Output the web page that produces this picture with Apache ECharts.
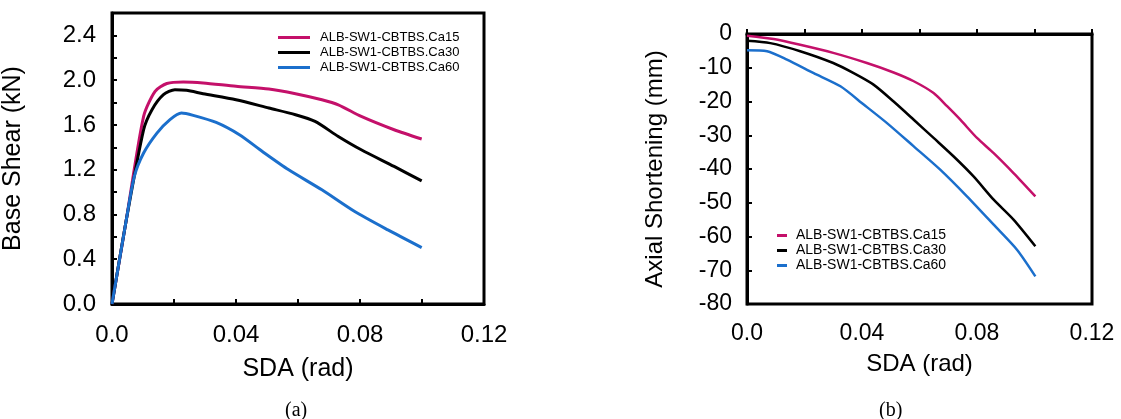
<!DOCTYPE html>
<html>
<head>
<meta charset="utf-8">
<script src="https://cdn.jsdelivr.net/npm/echarts@6/dist/echarts.min.js"></script>
<style>
  html, body { margin: 0; padding: 0; background: #fff; }
  #chart { width: 1121px; height: 419px; }
</style>
</head>
<body>
<div id="chart"></div>
<script>
// series names (legend)
const names = ['ALB-SW1-CBTBS.Ca15', 'ALB-SW1-CBTBS.Ca30', 'ALB-SW1-CBTBS.Ca60'];
const colors = ['#c4106a', '#000000', '#1b6fcc'];

// (a) base shear vs SDA : [SDA (rad), kN]
const shearCa15 = [[0, 0], [0.0046, 0.75], [0.0102, 1.676], [0.0139, 1.90], [0.0177, 1.97], [0.023, 1.984],
  [0.0294, 1.975], [0.040, 1.945], [0.0506, 1.921], [0.0592, 1.879], [0.0677, 1.825], [0.073, 1.78],
  [0.0804, 1.676], [0.091, 1.557], [0.0999, 1.474]];
const shearCa30 = [[0, 0], [0.0046, 0.75], [0.0102, 1.557], [0.0129, 1.736], [0.0166, 1.87], [0.0203, 1.915],
  [0.024, 1.909], [0.0294, 1.879], [0.040, 1.825], [0.0506, 1.751], [0.0592, 1.691], [0.0655, 1.631],
  [0.073, 1.497], [0.0804, 1.378], [0.091, 1.229], [0.0999, 1.10]];
const shearCa60 = [[0, 0], [0.0046, 0.75], [0.0072, 1.14], [0.0102, 1.349], [0.0145, 1.527], [0.0187, 1.647],
  [0.0224, 1.706], [0.0262, 1.685], [0.0336, 1.622], [0.0411, 1.512], [0.0485, 1.363], [0.057, 1.199],
  [0.0677, 1.020], [0.0783, 0.826], [0.089, 0.662], [0.0999, 0.504]];

// (b) axial shortening vs SDA : [SDA (rad), mm]
const axialCa15 = [[0, -0.5], [0.0093, -1.5], [0.0185, -3.2], [0.030, -5.6], [0.0417, -8.6], [0.051, -11.4],
  [0.058, -14.0], [0.0649, -17.5], [0.0696, -21.4], [0.0742, -25.4], [0.080, -30.8], [0.0858, -35.3],
  [0.0927, -41.2], [0.1003, -48.1]];
const axialCa30 = [[0, -2.0], [0.0081, -2.7], [0.0185, -5.1], [0.030, -8.6], [0.0371, -11.6], [0.044, -15.0],
  [0.051, -20.0], [0.058, -25.4], [0.0649, -30.8], [0.0719, -36.3], [0.0788, -42.2], [0.0858, -49.1],
  [0.0927, -55.0], [0.1003, -62.9]];
const axialCa60 = [[0, -4.8], [0.007, -5.1], [0.0139, -7.6], [0.0232, -11.6], [0.0325, -15.5], [0.0406, -20.9],
  [0.0487, -26.4], [0.058, -33.3], [0.0672, -40.2], [0.0765, -48.1], [0.0858, -56.5], [0.0939, -63.9],
  [0.1003, -71.8]];

const font = 'Liberation Sans, Arial, sans-serif';

function xFmt(v) {
  if (Math.round(v / 0.02) % 2 !== 0) return '';
  if (v === 0) return '0.0';
  return String(+v.toFixed(2));
}

function xAxisOf(gi, size, margin, gap) {
  return {
    type: 'value', gridIndex: gi, min: 0, max: 0.12, interval: 0.02,
    name: 'SDA (rad)', nameLocation: 'middle', nameGap: gap,
    nameTextStyle: { fontFamily: font, fontSize: size + 1, color: '#000' },
    axisLine: { lineStyle: { color: '#000', width: 3 } },
    axisTick: { inside: true, length: 5, lineStyle: { color: '#000', width: 2 } },
    axisLabel: { formatter: xFmt, fontFamily: font, fontSize: size, color: '#000', margin: margin, showMaxLabel: true },
    splitLine: { show: false }
  };
}

function line(name, data, color, xi, w) {
  return {
    name: name, type: 'line', xAxisIndex: xi, yAxisIndex: xi, data: data,
    showSymbol: false, smooth: 0.25,
    lineStyle: { color: color, width: w }, itemStyle: { color: color }
  };
}

const myChart = echarts.init(document.getElementById('chart'));
const option = {
  animation: false,
  backgroundColor: '#fff',
  grid: [
    { left: 108, top: 13, width: 376, height: 291, show: true, borderColor: '#000', borderWidth: 3 },
    { left: 747, top: 34, width: 345, height: 270, show: true, borderColor: '#000', borderWidth: 3 }
  ],
  xAxis: [xAxisOf(0, 24, 19, 53), xAxisOf(1, 23, 18, 48)],
  yAxis: [
    {
      type: 'value', gridIndex: 0, min: 0, max: 2.6, interval: 0.2,
      name: 'Base Shear (kN)', nameLocation: 'middle', nameRotate: 90, nameGap: 86,
      nameTextStyle: { fontFamily: font, fontSize: 25, color: '#000' },
      axisLine: { lineStyle: { color: '#000', width: 3 } },
      axisTick: { inside: true, length: 5, lineStyle: { color: '#000', width: 2 } },
      axisLabel: {
        fontFamily: font, fontSize: 24, color: '#000', margin: 16,
        formatter: function (v) { return Math.round(v / 0.2) % 2 === 0 && v < 2.5 ? v.toFixed(1) : ''; }
      },
      splitLine: { show: false }
    },
    {
      type: 'value', gridIndex: 1, min: -80, max: 0, interval: 10,
      name: 'Axial Shortening (mm)', nameLocation: 'middle', nameRotate: 90, nameGap: 80,
      nameTextStyle: { fontFamily: font, fontSize: 24, color: '#000' },
      axisLine: { lineStyle: { color: '#000', width: 3 } },
      axisTick: { inside: true, length: 5, lineStyle: { color: '#000', width: 2 } },
      axisLabel: { fontFamily: font, fontSize: 23, color: '#000', margin: 15 },
      splitLine: { show: false }
    }
  ],
  legend: [
    {
      orient: 'vertical', left: 273, top: 25, itemGap: 0, icon: 'rect', itemWidth: 32, itemHeight: 3,
      selectedMode: false, data: names,
      textStyle: { fontFamily: font, fontSize: 13, color: '#000', lineHeight: 15, padding: [0, 0, 0, 5] }
    },
    {
      orient: 'vertical', left: 772, top: 223, itemGap: 0, icon: 'rect', itemWidth: 10, itemHeight: 3,
      selectedMode: false, data: names,
      textStyle: { fontFamily: font, fontSize: 14, color: '#000', lineHeight: 15, padding: [0, 0, 0, 4] }
    }
  ],
  graphic: [
    { type: 'text', left: 285, top: 401, style: { text: '(a)', font: '20px "Liberation Serif", serif', fill: '#000' } },
    { type: 'text', left: 879, top: 401, style: { text: '(b)', font: '20px "Liberation Serif", serif', fill: '#000' } }
  ],
  series: [
    line(names[0], shearCa15, colors[0], 0, 3),
    line(names[1], shearCa30, colors[1], 0, 3),
    line(names[2], shearCa60, colors[2], 0, 3),
    line(names[0], axialCa15, colors[0], 1, 2.5),
    line(names[1], axialCa30, colors[1], 1, 2.5),
    line(names[2], axialCa60, colors[2], 1, 2.5)
  ]
};
myChart.setOption(option);
window.addEventListener('resize', function () { myChart.resize(); });
</script>
</body>
</html>
